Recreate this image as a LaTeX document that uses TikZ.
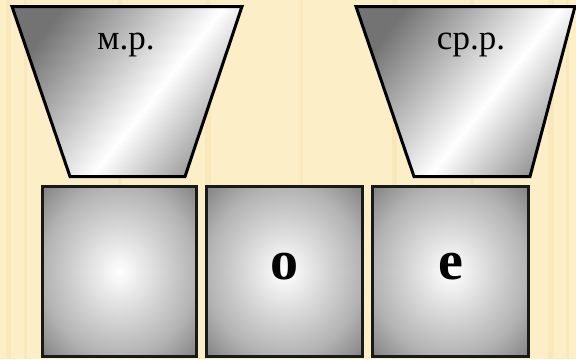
\documentclass[tikz,border=0pt]{standalone}
\usepackage{fontspec}
\setmainfont{Liberation Serif}
\definecolor{paper}{RGB}{252,238,199}
\definecolor{grain}{RGB}{240,220,165}
\pgfdeclareradialshading{tileshade}{\pgfpointorigin}{color(0bp)=(white); color(25bp)=(black!30); color(36bp)=(black!50); color(50bp)=(black!50)}
\pgfdeclareverticalshading{funnelshade}{100bp}{color(0bp)=(black!40); color(25bp)=(black!40); color(44bp)=(white); color(75bp)=(black!55); color(100bp)=(black!55)}

\begin{document}
\begin{tikzpicture}[x=1pt,y=-1pt,
  funnel/.style={draw=black,line width=3pt,shading=funnelshade,shading angle=52},
  tile/.style={draw=black!90,line width=3pt,shading=tileshade},
  gender/.style={font=\fontsize{35}{40}\selectfont,anchor=base},
  ending/.style={font=\fontsize{56}{60}\selectfont\bfseries,anchor=base}]
\fill[paper] (0,0) rectangle (576,359);
\useasboundingbox (0,0) rectangle (576,359);
% wood grain
\foreach \gx/\gw in {6/5,24/3,118/4,205/6,300/3,392/5,470/4,548/6,566/3}
  \fill[grain,opacity=0.3] (\gx,0) rectangle (\gx+\gw,359);
% funnels
\shade[funnel] (12,6.5)--(242,6.5)--(185,176.5)--(70,176.5)--cycle;
\shade[funnel] (356,6.5)--(575,6.5)--(530,176.5)--(414,176.5)--cycle;
\node[gender] (mr) at (126,49) {м.р.};
\node[gender] (srr) at (471,49) {ср.р.};
% tiles
\shade[tile] (42.5,186.5) rectangle (196.5,356.5);
\shade[tile] (206.5,186.5) rectangle (362.5,356.5);
\shade[tile] (372.5,186.5) rectangle (528.5,356.5);
\node[ending] (endo) at (284.5,279) {о};
\node[ending] (ende) at (450.5,279) {е};
\end{tikzpicture}
\end{document}
